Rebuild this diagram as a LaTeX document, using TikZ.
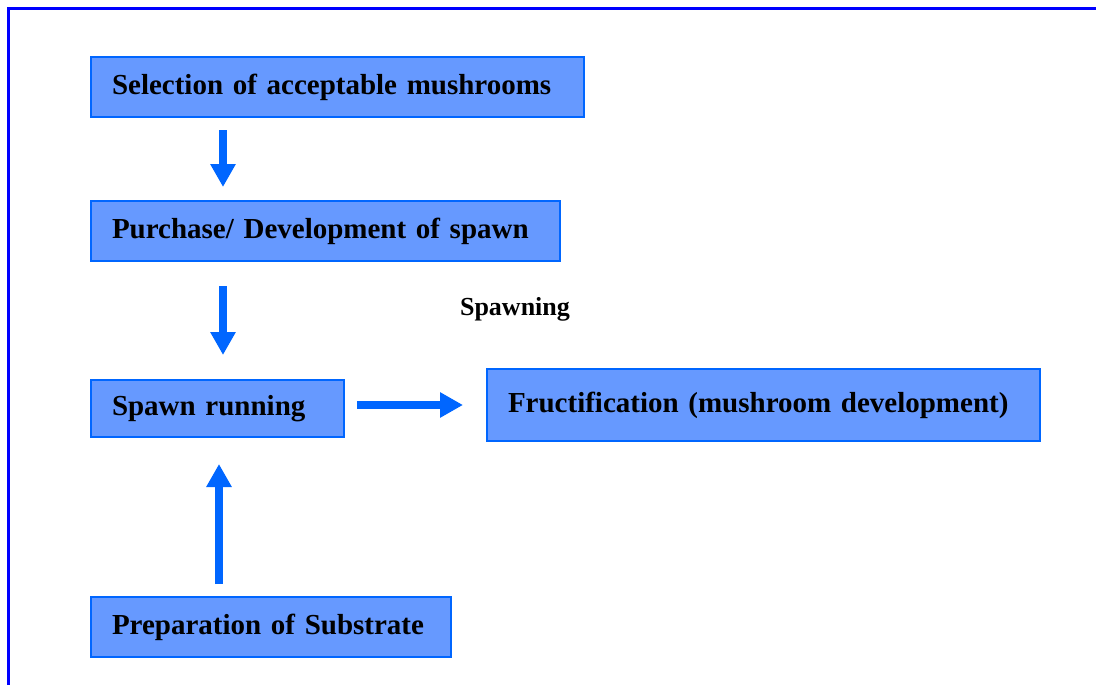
\documentclass[tikz,border=0pt]{standalone}
\usepackage{fontspec}
\setmainfont{Liberation Serif}
\usepackage{tikz}
\usetikzlibrary{arrows.meta,positioning,calc}
\definecolor{boxfill}{HTML}{6699FF}
\definecolor{boxline}{HTML}{0066FF}
\definecolor{framecol}{HTML}{0000FF}

\begin{document}
\begin{tikzpicture}[x=1pt, y=-1pt,
  box/.style={rectangle, draw=boxline, fill=boxfill, line width=2pt, anchor=north west, inner xsep=21pt, inner ysep=0pt, align=left, font=\fontsize{29}{34}\selectfont\bfseries},
  arrow/.style={-{Triangle[width=24pt,length=23pt]}, line width=8pt, draw=boxline},
  note/.style={font=\fontsize{26}{30}\selectfont\bfseries}
]
  \useasboundingbox (0,0) rectangle (1096,685);
  \draw[framecol, line width=3pt] (8,685) -- (8,9) -- (1096,9);

  \node[box, minimum width=493pt, minimum height=60pt, text width=451pt] (select) at (90,56) {Selection of acceptable mushrooms};
  \node[box, minimum width=469pt, minimum height=60pt, text width=427pt] (spawn) at (90,200) {Purchase/ Development of spawn};
  \node[box, minimum width=253pt, minimum height=57pt, text width=211pt] (running) at (90,379) {Spawn running};
  \node[box, minimum width=553pt, minimum height=72pt, text width=511pt] (fruct) at (486,368) {Fructification (mushroom development)};
  \node[box, minimum width=360pt, minimum height=60pt, text width=318pt] (substrate) at (90,596) {Preparation of Substrate};

  \node[note] (spawning) at (515,309) {Spawning};

  \draw[arrow, shorten <=12pt, shorten >=13pt] ([xshift=133pt]select.south west) -- ([xshift=133pt]spawn.north west);
  \draw[arrow, shorten <=24pt, shorten >=24pt] ([xshift=133pt]spawn.south west) -- ([xshift=133pt]running.north west);
  \draw[arrow, shorten <=12pt, shorten >=23pt] (running.east |- fruct.west) -- (fruct.west);
  \draw[arrow, shorten <=12pt, shorten >=26pt] ([xshift=129pt]substrate.north west) -- ([xshift=129pt]running.south west);
\end{tikzpicture}
\end{document}
